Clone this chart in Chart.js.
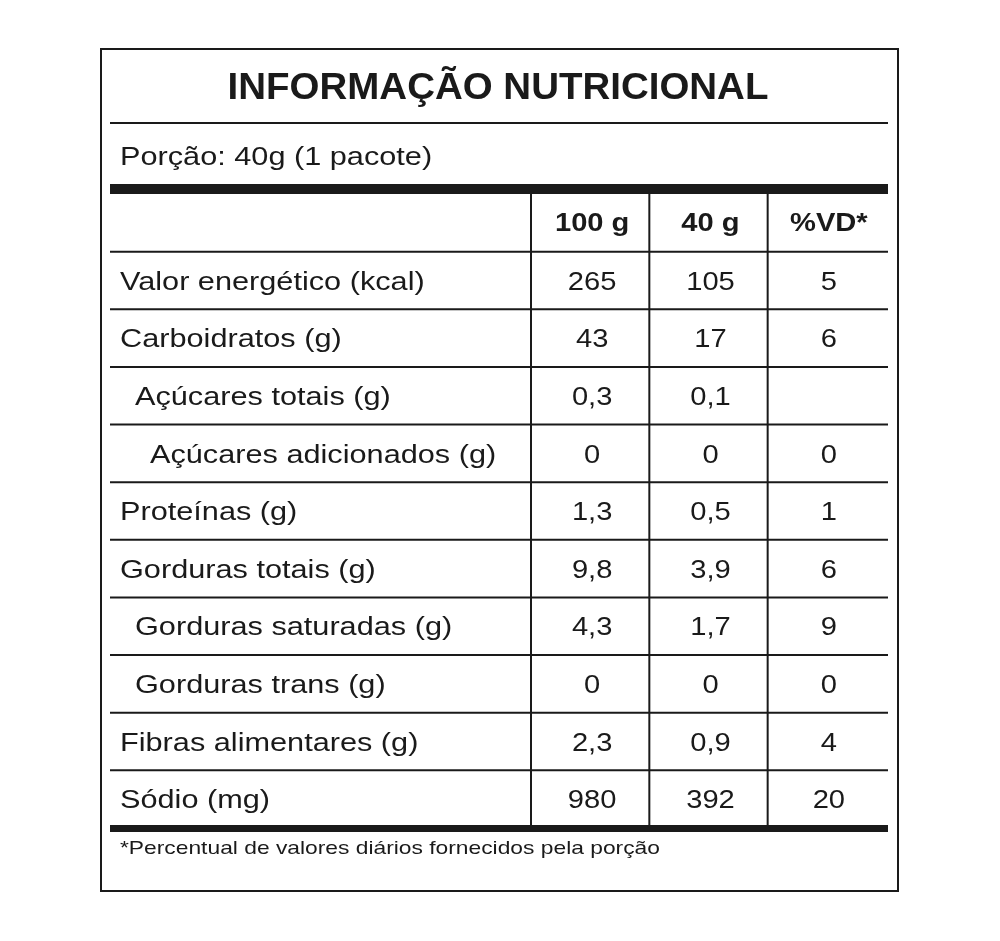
<!DOCTYPE html>
<html>
<head>
<meta charset="utf-8">
<script src="https://cdn.jsdelivr.net/npm/chart.js@4"></script>
<style>
  body { margin: 0; background: #fff; }
  canvas { display: block; }
</style>
</head>
<body>
<canvas id="tabela" width="1000" height="941"></canvas>
<script>
const title = 'INFORMAÇÃO NUTRICIONAL';
const portion = 'Porção: 40g (1 pacote)';
const footnote = '*Percentual de valores diários fornecidos pela porção';
const columns = ['100 g', '40 g', '%VD*'];
const nutrients = ['Valor energético (kcal)', 'Carboidratos (g)', 'Açúcares totais (g)', 'Açúcares adicionados (g)',
  'Proteínas (g)', 'Gorduras totais (g)', 'Gorduras saturadas (g)', 'Gorduras trans (g)',
  'Fibras alimentares (g)', 'Sódio (mg)'];
const indent = [0, 0, 1, 2, 0, 0, 1, 1, 0, 0];
const per100g = ['265', '43', '0,3', '0', '1,3', '9,8', '4,3', '0', '2,3', '980'];
const per40g = ['105', '17', '0,1', '0', '0,5', '3,9', '1,7', '0', '0,9', '392'];
const vd = ['5', '6', '', '0', '1', '6', '9', '0', '4', '20'];

const rows = ['header', ...nutrients];
const FONT = '"Liberation Sans", Arial, sans-serif';

// text drawn a bit wider to match the reference face
function txt(ctx, s, x, y, align, stretch) {
  ctx.save();
  ctx.translate(x, y);
  ctx.scale(stretch, 1);
  ctx.textAlign = align;
  ctx.fillText(s, 0, 0);
  ctx.restore();
}

const tablePlugin = {
  id: 'tabela',
  afterDraw(chart) {
    const ctx = chart.ctx;
    const y = chart.scales.y;
    const x = chart.scales.x;
    const L = 110, R = 888;
    ctx.save();
    ctx.fillStyle = '#1a1a1a';
    ctx.strokeStyle = '#1a1a1a';
    ctx.textBaseline = 'middle';
    ctx.lineWidth = 2;
    ctx.strokeRect(101, 49, 797, 842);
    ctx.font = 'bold 37px ' + FONT;
    txt(ctx, title, 498, 89, 'center', 1.04);
    ctx.beginPath(); ctx.moveTo(L, 123); ctx.lineTo(R, 123); ctx.stroke();
    ctx.font = '26px ' + FONT;
    txt(ctx, portion, 120, 158, 'left', 1.18);
    ctx.fillRect(L, 184, R - L, 10);

    const half = (y.getPixelForValue(1) - y.getPixelForValue(0)) / 2;
    const top = y.getPixelForValue(0) - half;
    const bottom = y.getPixelForValue(rows.length - 1) + half;
    for (let i = 0; i < rows.length - 1; i++) {
      const yy = y.getPixelForValue(i) + half;
      ctx.beginPath(); ctx.moveTo(L, yy); ctx.lineTo(R, yy); ctx.stroke();
    }
    ctx.fillRect(L, bottom - 3, R - L, 7);
    for (let c = 0; c < columns.length; c++) {
      const cx = x.getPixelForValue(c) - (x.getPixelForValue(1) - x.getPixelForValue(0)) / 2;
      ctx.beginPath(); ctx.moveTo(cx, top); ctx.lineTo(cx, bottom - 3); ctx.stroke();
    }
    ctx.font = 'bold 26px ' + FONT;
    columns.forEach((c, i) => txt(ctx, c, x.getPixelForValue(i) + 2, y.getPixelForValue(0) + 1, 'center', 1.12));
    ctx.font = '26px ' + FONT;
    nutrients.forEach((n, i) => {
      const yy = y.getPixelForValue(i + 1) + 2;
      txt(ctx, n, 120 + indent[i] * 15, yy, 'left', 1.18);
      [per100g, per40g, vd].forEach((col, c) => txt(ctx, col[i], x.getPixelForValue(c) + 2, yy, 'center', 1.12));
    });
    ctx.font = '19px ' + FONT;
    txt(ctx, footnote, 120, 849, 'left', 1.2);
    ctx.restore();
  }
};

new Chart(document.getElementById('tabela'), {
  type: 'bar',
  data: { labels: rows, datasets: [{ data: rows.map(() => null) }] },
  options: {
    responsive: false,
    animation: false,
    layout: { padding: { top: 194, bottom: 113, left: 531, right: 114 } },
    plugins: { legend: { display: false }, tooltip: { enabled: false } },
    scales: {
      y: { type: 'category', labels: rows, display: false, offset: true },
      x: { type: 'category', labels: columns, display: false, offset: true }
    }
  },
  plugins: [tablePlugin]
});
</script>
</body>
</html>
